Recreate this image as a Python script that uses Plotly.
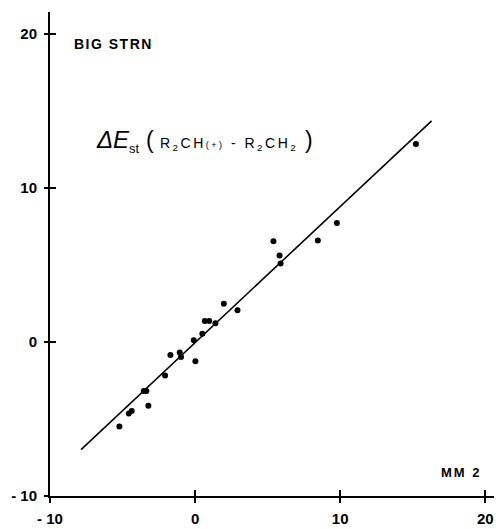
import plotly.graph_objects as go

# data
mm2_x = [-5.22, -4.57, -4.37, -3.54, -3.36, -3.22, -2.07, -1.70, -1.06, -0.97,
         0.02, -0.09, 0.50, 0.67, 0.97, 1.40, 1.98, 2.92,
         5.40, 5.82, 5.89, 8.46, 9.77, 15.22]
bigstrn_y = [-5.49, -4.64, -4.49, -3.18, -3.18, -4.15, -2.18, -0.85, -0.69, -0.98,
             -1.26, 0.11, 0.53, 1.35, 1.35, 1.20, 2.48, 2.05,
             6.52, 5.60, 5.08, 6.58, 7.71, 12.84]
fit_x = [-7.86, 16.3]
fit_y = [-6.99, 14.34]
tick_vals = [-10, 0, 10, 20]
xtick_text = ["<b>- 10</b>", "<b>0</b>", "<b>10</b>", "<b>20</b>"]
ytick_text = ["<b>- 10</b>", "<b>0</b>", "<b>10</b>", "<b>20</b>"]

FONT = "Liberation Sans, Arial, sans-serif"
XR = [-10, 20.6]
YR = [-10, 21.4]

fig = go.Figure()
fig.add_trace(go.Scatter(x=fit_x, y=fit_y, mode="lines",
                         line=dict(color="black", width=1.6), showlegend=False))
fig.add_trace(go.Scatter(x=mm2_x, y=bigstrn_y, mode="markers",
                         marker=dict(color="black", size=6), showlegend=False))
# invisible trace on free overlay axes that carry the outer half of each tick cross
fig.add_trace(go.Scatter(x=[XR[0]], y=[YR[0]], xaxis="x2", yaxis="y2", mode="markers",
                         marker=dict(opacity=0, size=1), showlegend=False, hoverinfo="skip"))

axis_common = dict(showgrid=False, zeroline=False, showline=True, linecolor="black",
                   linewidth=2, ticks="inside", ticklen=6, tickwidth=1.5,
                   tickcolor="black", tickmode="array", tickvals=tick_vals,
                   tickfont=dict(family=FONT, size=15, color="black"))
overlay_common = dict(showgrid=False, zeroline=False, showline=False, ticks="outside",
                      ticklen=6, tickwidth=1.5, tickcolor="black", tickmode="array",
                      tickvals=tick_vals, showticklabels=False, anchor="free", position=0)

fig.update_layout(
    width=496, height=529,
    margin=dict(l=50, r=2, t=12, b=27),
    plot_bgcolor="white", paper_bgcolor="white",
    xaxis=dict(range=XR, ticktext=xtick_text, ticklabelstandoff=8, **axis_common),
    yaxis=dict(range=YR, ticktext=ytick_text, ticklabelstandoff=8, **axis_common),
    xaxis2=dict(overlaying="x", range=XR, side="bottom", **overlay_common),
    yaxis2=dict(overlaying="y", range=YR, side="left", **overlay_common),
)

fig.add_annotation(x=-8.45, y=19.3, xref="x", yref="y", xanchor="left", yanchor="middle",
                   text="<b><span style='letter-spacing:1.5px'>BIG STRN</span></b>",
                   showarrow=False,
                   font=dict(family=FONT, size=14, color="black"))
fig.add_annotation(x=-7.0, y=13.0, xref="x", yref="y", xanchor="left", yanchor="middle",
                   text="<i>ΔE</i><sub><span style='font-size:13px'>st</span></sub> "
                        "<span style='font-size:23px'>(</span>"
                        "<span style='font-size:14px;letter-spacing:2.5px'> R<sub>2</sub>CH"
                        "<span style='font-size:9px'>(+)</span>"
                        " - R<sub>2</sub>CH<sub>2</sub></span> "
                        "<span style='font-size:23px'>)</span>",
                   showarrow=False,
                   font=dict(family=FONT, size=24, color="black"))
fig.add_annotation(x=19.9, y=-8.45, xref="x", yref="y", xanchor="right", yanchor="middle",
                   text="<b><span style='letter-spacing:2px'>MM 2</span></b>", showarrow=False,
                   font=dict(family=FONT, size=13, color="black"))

fig.write_html("out.html")
